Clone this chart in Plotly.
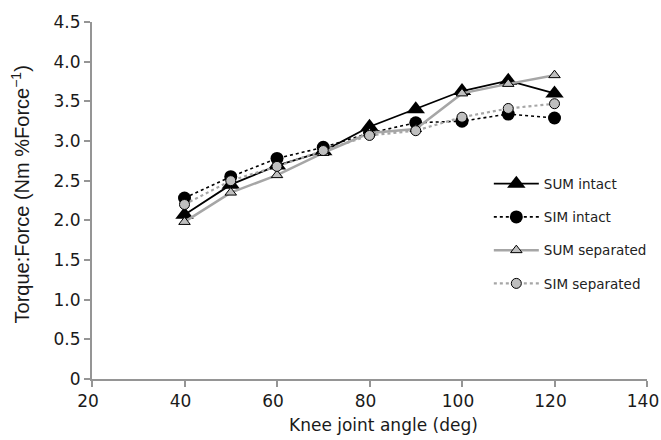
import plotly.graph_objects as go

angles = [40, 50, 60, 70, 80, 90, 100, 110, 120]
sum_intact = [2.07, 2.45, 2.69, 2.87, 3.18, 3.40, 3.63, 3.76, 3.60]
sim_intact = [2.28, 2.55, 2.78, 2.92, 3.10, 3.23, 3.25, 3.34, 3.29]
sum_separated = [1.98, 2.35, 2.57, 2.85, 3.10, 3.15, 3.60, 3.72, 3.83]
sim_separated = [2.20, 2.50, 2.68, 2.88, 3.07, 3.13, 3.30, 3.41, 3.47]

y_ticks = [0, 0.5, 1.0, 1.5, 2.0, 2.5, 3.0, 3.5, 4.0, 4.5]
y_labels = ["0", "0.5", "1.0", "1.5", "2.0", "2.5", "3.0", "3.5", "4.0", "4.5"]
x_ticks = [20, 40, 60, 80, 100, 120, 140]
x_title = "Knee joint angle (deg)"
y_title = "Torque:Force (Nm %Force<sup>−1</sup>)"

fig = go.Figure()
fig.add_trace(go.Scatter(x=angles, y=sum_intact, name="SUM intact", mode="lines+markers",
                         legendgroup="a",
                         line=dict(color="black", width=1.8),
                         marker=dict(symbol="triangle-up", size=16, color="black")))
fig.add_trace(go.Scatter(x=angles, y=sim_intact, name="SIM intact", mode="lines+markers",
                         legendgroup="b",
                         line=dict(color="black", width=1.6, dash="dot"),
                         marker=dict(symbol="circle", size=13, color="black")))
fig.add_trace(go.Scatter(x=angles, y=sum_separated, name="SUM separated", mode="lines+markers",
                         legendgroup="c",
                         line=dict(color="#a6a6a6", width=2.5),
                         marker=dict(symbol="triangle-up", size=10, color="#bfbfbf",
                                     line=dict(color="black", width=1))))
fig.add_trace(go.Scatter(x=angles, y=sim_separated, name="SIM separated", mode="lines+markers",
                         legendgroup="d",
                         line=dict(color="#a6a6a6", width=2.2, dash="dot"),
                         marker=dict(symbol="circle", size=10, color="#bfbfbf",
                                     line=dict(color="black", width=1))))

axis_common = dict(showline=True, linecolor="#959595", linewidth=2, ticks="outside",
                   tickcolor="#959595", ticklen=6, tickwidth=1.5, showgrid=False, zeroline=False,
                   ticklabeloverflow="allow", automargin=False,
                   tickfont=dict(family="DejaVu Sans", size=17, color="#1a1a1a"))

fig.update_layout(
    width=661, height=440,
    margin=dict(l=92, r=14, t=22, b=61, autoexpand=False),
    plot_bgcolor="white", paper_bgcolor="white",
    font=dict(family="DejaVu Sans", color="#1a1a1a"),
    xaxis=dict(range=[20, 140], tickvals=x_ticks, ticklabelshift=-4, **axis_common),
    yaxis=dict(range=[0, 4.5], tickvals=y_ticks, ticktext=y_labels, **axis_common),
    legend=dict(x=0.715, y=0.59, xanchor="left", yanchor="top", bgcolor="rgba(0,0,0,0)",
                font=dict(family="DejaVu Sans", size=13.5, color="#222222"),
                tracegroupgap=12.7, itemwidth=45),
    showlegend=True,
    annotations=[
        dict(text=x_title, xref="paper", yref="paper", x=0.5245, y=-0.129,
             xanchor="center", yanchor="middle", showarrow=False,
             font=dict(family="DejaVu Sans", size=17, color="#1a1a1a")),
        dict(text=y_title, xref="paper", yref="paper", x=-0.1297, y=0.517,
             xanchor="center", yanchor="middle", showarrow=False, textangle=-90,
             font=dict(family="Liberation Sans", size=20, color="#1a1a1a")),
    ],
)

fig.write_html("out.html", post_script="document.body.style.margin='0';",
               config={"displayModeBar": False})
